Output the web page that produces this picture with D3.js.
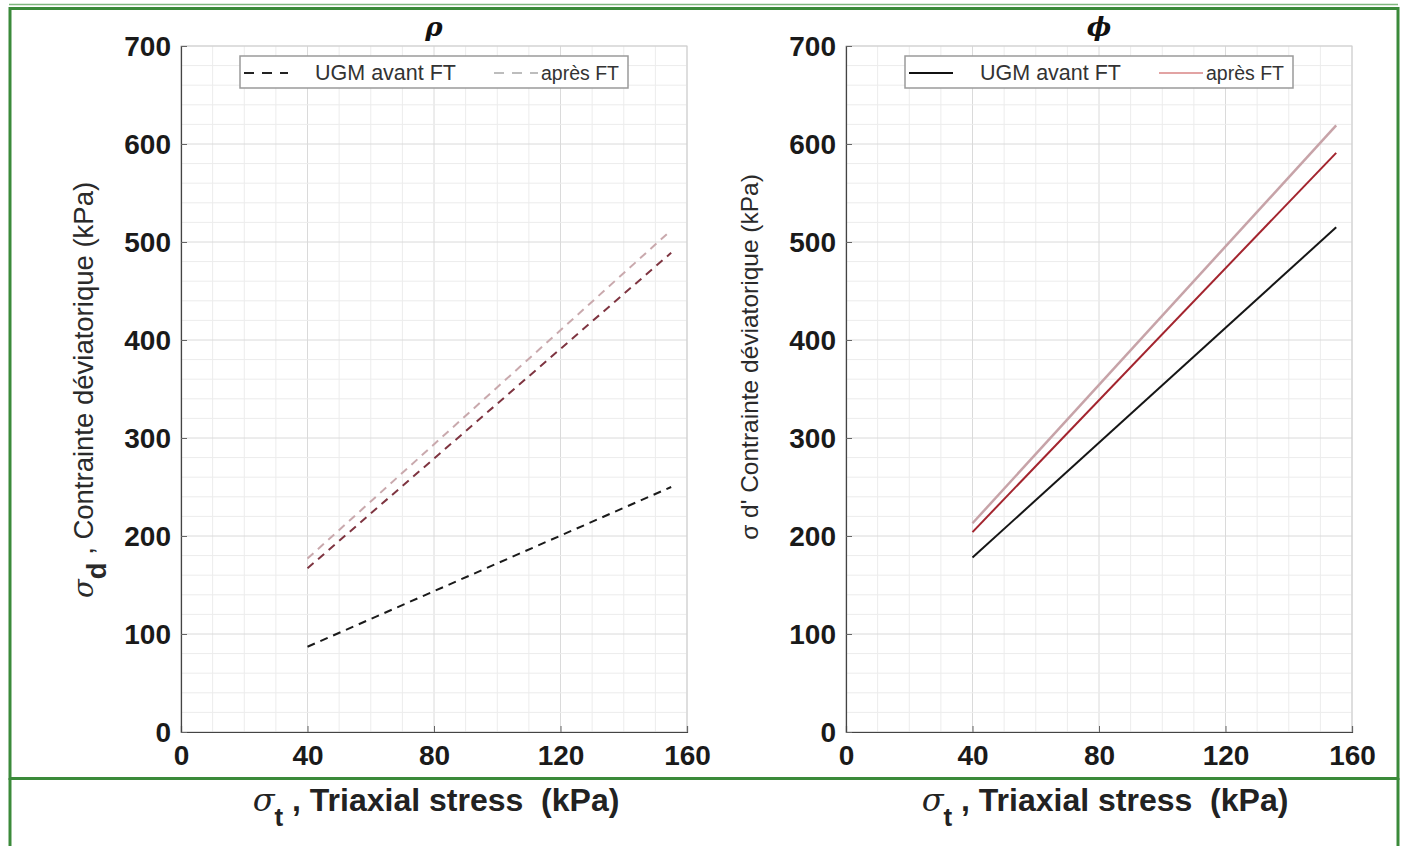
<!DOCTYPE html>
<html>
<head>
<meta charset="utf-8">
<script src="https://cdn.jsdelivr.net/npm/d3@7"></script>
<style>
  html, body { margin: 0; padding: 0; background: #ffffff; }
  svg { display: block; }
</style>
</head>
<body>
<svg id="chart" width="1406" height="846"></svg>
<script>
// Triaxial stress domain and tick labels
const xTicks = [0, 40, 80, 120, 160];
const yTicks = [0, 100, 200, 300, 400, 500, 600, 700];

// Straight-line fits: [sigma_t, sigma_d] at start and end
const rhoAvant   = [[40, 87],  [155, 250]];
const rhoApresA  = [[40, 167], [155, 489]];
const rhoApresB  = [[40, 177], [155, 512]];
const phiAvant   = [[40, 178], [155, 515]];
const phiApresA  = [[40, 204], [155, 591]];
const phiApresB  = [[40, 213], [155, 619]];

const legendLabels = ["UGM avant FT", "après FT"];
const panelTitles = ["ρ", "ϕ"];

const svg = d3.select("#chart");

// Green frame
const green = "#3b8a3a";
svg.append("line").attr("x1", 9).attr("x2", 1398).attr("y1", 4.5).attr("y2", 4.5)
  .attr("stroke", "#7fb77e").attr("stroke-width", 1.5);
svg.append("rect").attr("x", 10).attr("y", 8.5).attr("width", 1388).attr("height", 770)
  .attr("fill", "none").attr("stroke", green).attr("stroke-width", 3);
svg.append("line").attr("x1", 10).attr("x2", 10).attr("y1", 778).attr("y2", 846)
  .attr("stroke", green).attr("stroke-width", 3);
svg.append("line").attr("x1", 1398).attr("x2", 1398).attr("y1", 778).attr("y2", 846)
  .attr("stroke", green).attr("stroke-width", 3);

function panel(opts) {
  const x = d3.scaleLinear().domain([0, 160]).range([opts.x0, opts.x1]);
  const y = d3.scaleLinear().domain([0, 700]).range([732, 46]);
  const g = svg.append("g");

  // Minor grid
  g.append("g").selectAll("line").data(d3.range(0, 161, 10)).join("line")
    .attr("x1", d => x(d)).attr("x2", d => x(d)).attr("y1", y(0)).attr("y2", y(700))
    .attr("stroke", d => d % 40 === 0 ? "#dadada" : "#ececec").attr("stroke-width", 1);
  g.append("g").selectAll("line").data(d3.range(0, 701, 20)).join("line")
    .attr("x1", x(0)).attr("x2", x(160)).attr("y1", d => y(d)).attr("y2", d => y(d))
    .attr("stroke", d => d % 100 === 0 ? "#dadada" : "#ececec").attr("stroke-width", 1);

  // Box
  g.append("rect").attr("x", x(0)).attr("y", y(700)).attr("width", x(160) - x(0)).attr("height", y(0) - y(700))
    .attr("fill", "none").attr("stroke", "#cfcfcf").attr("stroke-width", 1);

  // Axes
  const xa = g.append("g").attr("transform", `translate(0,${y(0)})`)
    .call(d3.axisBottom(x).tickValues(xTicks).tickSize(-6).tickPadding(16).tickFormat(d3.format("d")));
  const ya = g.append("g").attr("transform", `translate(${x(0)},0)`)
    .call(d3.axisLeft(y).tickValues(yTicks).tickSize(-6).tickPadding(10).tickFormat(d3.format("d")));
  [xa, ya].forEach(a => {
    a.select(".domain").attr("stroke", "#444").attr("stroke-width", 1.2);
    a.selectAll(".tick line").attr("stroke", "#666");
    a.selectAll("text").attr("fill", "#1a1a1a")
      .style("font-family", "'Liberation Sans', Arial, sans-serif")
      .style("font-weight", "bold").style("font-size", "28px");
  });
  xa.selectAll("text").attr("dy", "0.6em");
  ya.selectAll("text").attr("dy", "0.35em");

  // Lines
  const line = d3.line().x(d => x(d[0])).y(d => y(d[1]));
  opts.series.forEach(s => {
    g.append("path").datum(s.data).attr("d", line)
      .attr("fill", "none").attr("stroke", s.color).attr("stroke-width", s.width || 2)
      .attr("stroke-dasharray", s.dash || null);
  });

  // Title
  svg.append("text").attr("x", (opts.x0 + opts.x1) / 2).attr("y", 36)
    .attr("text-anchor", "middle")
    .style("font-family", "'DejaVu Serif', 'Liberation Serif', serif")
    .style("font-style", "italic").style("font-weight", "bold").style("font-size", "26px")
    .attr("fill", "#111").text(opts.title);

  // Legend
  const lg = svg.append("g").attr("transform", `translate(${opts.legX},56)`);
  lg.append("rect").attr("width", 388).attr("height", 32).attr("fill", "#fff")
    .attr("stroke", "#9a9a9a").attr("stroke-width", 1.5);
  opts.legend.forEach((it, i) => {
    const ox = i === 0 ? 4 : 254;
    lg.append("line").attr("x1", ox).attr("x2", ox + 44).attr("y1", 17).attr("y2", 17)
      .attr("stroke", it.color).attr("stroke-width", 2).attr("stroke-dasharray", it.dash || null);
    lg.append("text").attr("x", i === 0 ? 75 : 301).attr("y", 24)
      .style("font-family", "'Liberation Sans', Arial, sans-serif").style("font-size", i === 0 ? "21.5px" : "19.5px")
      .attr("fill", "#333").text(it.label);
  });

  // X label
  const xl = svg.append("text").attr("x", opts.xLabelX).attr("y", 811)
    .attr("text-anchor", "middle")
    .style("font-family", "'Liberation Sans', Arial, sans-serif")
    .style("font-weight", "bold").style("font-size", "32px").attr("fill", "#222");
  xl.append("tspan").style("font-family", "'DejaVu Serif', serif").style("font-style", "italic").style("font-weight", "normal").text("σ");
  xl.append("tspan").attr("dy", 15).style("font-size", "26px").text("t");
  xl.append("tspan").attr("dy", -15).text(" , Triaxial stress \u00a0(kPa)");

  return { x, y };
}

// Left panel: ρ
panel({
  x0: 181, x1: 687, title: panelTitles[0], legX: 240, xLabelX: 436,
  series: [
    { data: rhoApresB, color: "#c9a9ad", dash: "8,6" },
    { data: rhoApresA, color: "#7e3440", dash: "8,6" },
    { data: rhoAvant,  color: "#1a1a1a", dash: "8,6" }
  ],
  legend: [
    { label: legendLabels[0], color: "#222", dash: "10,8" },
    { label: legendLabels[1], color: "#bdbdbd", dash: "10,8" }
  ]
});

// Right panel: ϕ
panel({
  x0: 846, x1: 1352, title: panelTitles[1], legX: 905, xLabelX: 1105,
  series: [
    { data: phiApresB, color: "#c7a3a8", width: 2.5 },
    { data: phiApresA, color: "#a3242e", width: 2 },
    { data: phiAvant,  color: "#151515", width: 2 }
  ],
  legend: [
    { label: legendLabels[0], color: "#111" },
    { label: legendLabels[1], color: "#e2a3a3" }
  ]
});

// Y labels
const yl1 = svg.append("text").attr("transform", "translate(93,390) rotate(-90)")
  .attr("text-anchor", "middle")
  .style("font-family", "'Liberation Sans', Arial, sans-serif").style("font-size", "27.5px").attr("fill", "#2a2a2a");
yl1.append("tspan").style("font-family", "'DejaVu Serif', serif").style("font-style", "italic").text("σ");
yl1.append("tspan").attr("dy", 13).style("font-weight", "bold").text("d");
yl1.append("tspan").attr("dy", -13).text(" ,  Contrainte déviatorique (kPa)");

svg.append("text").attr("transform", "translate(758,357) rotate(-90)")
  .attr("text-anchor", "middle")
  .style("font-family", "'Liberation Sans', Arial, sans-serif").style("font-size", "24.5px").attr("fill", "#2a2a2a")
  .text("σ d' Contrainte déviatorique (kPa)");
</script>
</body>
</html>
